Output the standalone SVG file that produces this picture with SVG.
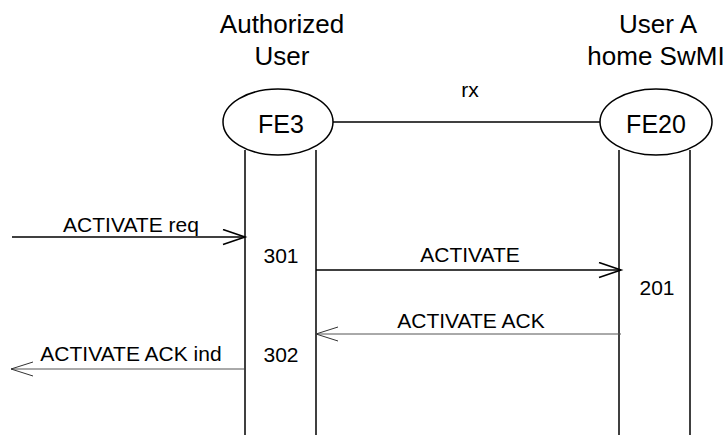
<svg xmlns="http://www.w3.org/2000/svg" width="728" height="435" viewBox="0 0 728 435">
<style>
text{font-family:"Liberation Sans",Arial,sans-serif;fill:#000;text-anchor:middle}
.hdr{font-size:26px}
.fe{font-size:25px}
.lbl{font-size:21px}
.life{stroke:#000;stroke-width:1.5;fill:none}
.thick{stroke:#000;stroke-width:1.6;fill:none}
.thin{stroke:#555;stroke-width:1;fill:none}
</style>
<defs>
<marker id="ah" markerUnits="userSpaceOnUse" markerWidth="26" markerHeight="18" refX="23" refY="8" orient="auto">
<path d="M1,0.5 L23,8 L1,15.5" fill="none" stroke="#000" stroke-width="1.6"/>
</marker>
<marker id="ahThin" markerUnits="userSpaceOnUse" markerWidth="26" markerHeight="18" refX="23" refY="8" orient="auto">
<path d="M1,1 L23,8 L1,15" fill="none" stroke="#333" stroke-width="1"/>
</marker>
</defs>
<g id="fe3">
<text class="hdr" x="282" y="33">Authorized</text>
<text class="hdr" x="282" y="65">User</text>
<line class="life" x1="245" y1="150" x2="245" y2="435"/>
<line class="life" x1="316" y1="150" x2="316" y2="435"/>
<ellipse cx="278" cy="122" rx="55" ry="33" fill="#fff" stroke="#000" stroke-width="1.5"/>
<text class="fe" x="281" y="133">FE3</text>
<text class="lbl" x="281" y="263">301</text>
<text class="lbl" x="281" y="362">302</text>
</g>
<g id="fe20">
<text class="hdr" x="658" y="33">User A</text>
<text class="hdr" x="656" y="65">home SwMI</text>
<line class="life" x1="619" y1="150" x2="619" y2="435"/>
<line class="life" x1="690" y1="150" x2="690" y2="435"/>
<ellipse cx="656" cy="122" rx="56" ry="33" fill="#fff" stroke="#000" stroke-width="1.5"/>
<text class="fe" x="656" y="133">FE20</text>
<text class="lbl" x="657" y="295">201</text>
</g>
<g id="connectors">
<line class="thick" x1="333" y1="122" x2="600" y2="122"/>
<text class="lbl" x="470" y="97">rx</text>
<line class="thick" x1="12" y1="237" x2="245" y2="237" marker-end="url(#ah)"/>
<text class="lbl" x="131" y="232">ACTIVATE req</text>
<line class="thick" x1="316" y1="270" x2="621" y2="270" marker-end="url(#ah)"/>
<text class="lbl" x="470" y="262">ACTIVATE</text>
<line class="thin" x1="621" y1="334" x2="316" y2="334" marker-end="url(#ahThin)"/>
<text class="lbl" x="471" y="328">ACTIVATE ACK</text>
<line class="thin" x1="244" y1="369" x2="11" y2="369" marker-end="url(#ahThin)"/>
<text class="lbl" x="131" y="361">ACTIVATE ACK ind</text>
</g>
</svg>
